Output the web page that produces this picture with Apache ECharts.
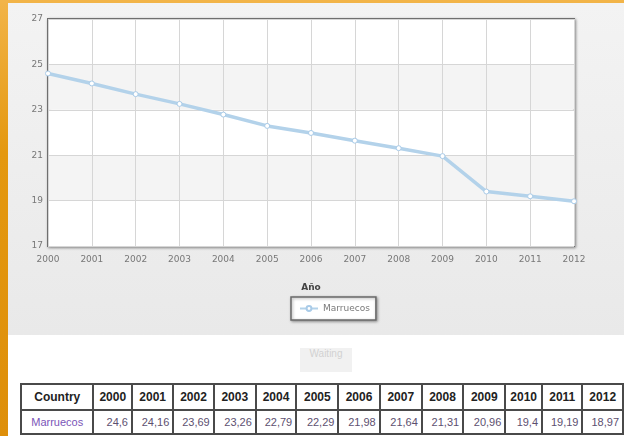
<!DOCTYPE html>
<html>
<head>
<meta charset="utf-8">
<script src="https://cdn.jsdelivr.net/npm/echarts@6/dist/echarts.min.js"></script>
<style>
  html, body {
    margin: 0;
    width: 624px;
    height: 436px;
    overflow: hidden;
    background: #fff;
  }
  .page {
    position: relative;
    width: 624px;
    height: 436px;
  }
  .leftStrip {
    position: absolute;
    left: 0; top: 0;
    width: 8px; height: 436px;
    background: linear-gradient(#f2b448, #e4980f 35%, #de8f0a);
  }
  .topStrip {
    position: absolute;
    left: 0; top: 0;
    width: 624px; height: 3px;
    background: #f2b448;
  }
  .panel {
    position: absolute;
    left: 8px; top: 3px;
    width: 616px; height: 332px;
    background: linear-gradient(#f3f3f3, #e9e9e9);
  }
  .waiting {
    position: absolute;
    left: 300px; top: 348px;
    width: 52px; height: 24px;
    line-height: 24px;
    text-align: center;
    background: #f1f1f1;
    color: #d2d2d2;
    font: 10px "Liberation Sans", Arial, sans-serif;
  }
  table {
    position: absolute;
    left: 20px; top: 383px;
    border-collapse: collapse;
    table-layout: fixed;
    font-family: "Liberation Sans", Arial, sans-serif;
    white-space: nowrap;
  }
  td, th {
    border: 2px solid #4a4a4a;
    padding: 0 3px;
    text-align: center;
  }
  th {
    height: 24px;
    font-size: 12px;
    font-weight: bold;
    color: #222;
  }
  td {
    height: 22px;
    font-size: 11px;
    color: #5d5070;
    text-align: right;
  }
  td.country {
    color: #7a55b8;
    text-align: center;
  }
</style>
</head>
<body>
<div class="page">
  <div class="leftStrip"></div>
  <div class="topStrip"></div>
  <div class="panel" id="chart"></div>
  <div class="waiting">Waiting</div>
  <table id="tbl"></table>
</div>
<script>
// datos
var years = ["2000", "2001", "2002", "2003", "2004", "2005", "2006",
             "2007", "2008", "2009", "2010", "2011", "2012"];
var marruecos = [24.6, 24.16, 23.69, 23.26, 22.79, 22.29, 21.98,
                 21.64, 21.31, 20.96, 19.4, 19.19, 18.97];
var yTicks = [17, 19, 21, 23, 25, 27];
var countryName = "Marruecos";
var colWidths = [74, 39, 42, 41, 43, 41, 43, 42, 43, 42, 43, 37, 41, 41];

var myChart = echarts.init(document.getElementById("chart"));
myChart.setOption({
  animation: false,
  textStyle: { fontFamily: "DejaVu Sans" },
  grid: {
    left: 40,
    top: 16,
    width: 526,
    height: 227,
    show: true,
    backgroundColor: "#fff",
    borderColor: "#6f6f6f",
    borderWidth: 2,
    shadowColor: "rgba(0,0,0,0.35)",
    shadowBlur: 3,
    shadowOffsetX: 1,
    shadowOffsetY: 1
  },
  legend: {
    left: 283,
    top: 294,
    data: [countryName],
    backgroundColor: "#fff",
    borderColor: "#6a6a6a",
    borderWidth: 1.5,
    padding: [7, 6, 7, 8],
    itemWidth: 18,
    itemHeight: 6,
    itemGap: 6,
    shadowColor: "rgba(0,0,0,0.35)",
    shadowBlur: 3,
    shadowOffsetX: 1,
    shadowOffsetY: 1,
    textStyle: { color: "#7a7a7a", fontSize: 9, fontFamily: "DejaVu Sans" }
  },
  xAxis: {
    type: "category",
    data: years,
    boundaryGap: false,
    name: "Año",
    nameLocation: "middle",
    nameGap: 37,
    nameTextStyle: { color: "#444", fontSize: 9, fontWeight: "bold" },
    axisLine: { show: false },
    axisTick: { show: false },
    axisLabel: { color: "#777", fontSize: 9, margin: 9 },
    splitLine: { show: true, lineStyle: { color: "#d6d6d6", width: 1 } }
  },
  yAxis: {
    type: "value",
    min: 17,
    max: 27,
    axisLine: { show: false },
    axisTick: { show: false, customValues: yTicks },
    axisLabel: { color: "#777", fontSize: 9, margin: 5, customValues: yTicks },
    splitLine: { show: true, lineStyle: { color: "#d6d6d6", width: 1 } },
    splitArea: { show: true, areaStyle: { color: ["#ffffff", "#f4f4f4"] } }
  },
  series: [
    {
      name: countryName,
      type: "line",
      data: marruecos,
      symbol: "circle",
      symbolSize: 5,
      lineStyle: { color: "#b3d2ea", width: 3.5 },
      itemStyle: { color: "#fff", borderColor: "#a9cbe8", borderWidth: 1 },
      z: 3
    }
  ]
});

// tabla
var fmt = function(v) { return String(v).replace(".", ","); };
var html = "<colgroup>";
colWidths.forEach(function(w) { html += '<col style="width:' + w + 'px">'; });
html += "</colgroup><tr><th>Country</th>";
years.forEach(function(y) { html += "<th>" + y + "</th>"; });
html += '</tr><tr><td class="country">' + countryName + "</td>";
marruecos.forEach(function(v) { html += "<td>" + fmt(v) + "</td>"; });
html += "</tr>";
document.getElementById("tbl").innerHTML = html;
</script>
</body>
</html>
